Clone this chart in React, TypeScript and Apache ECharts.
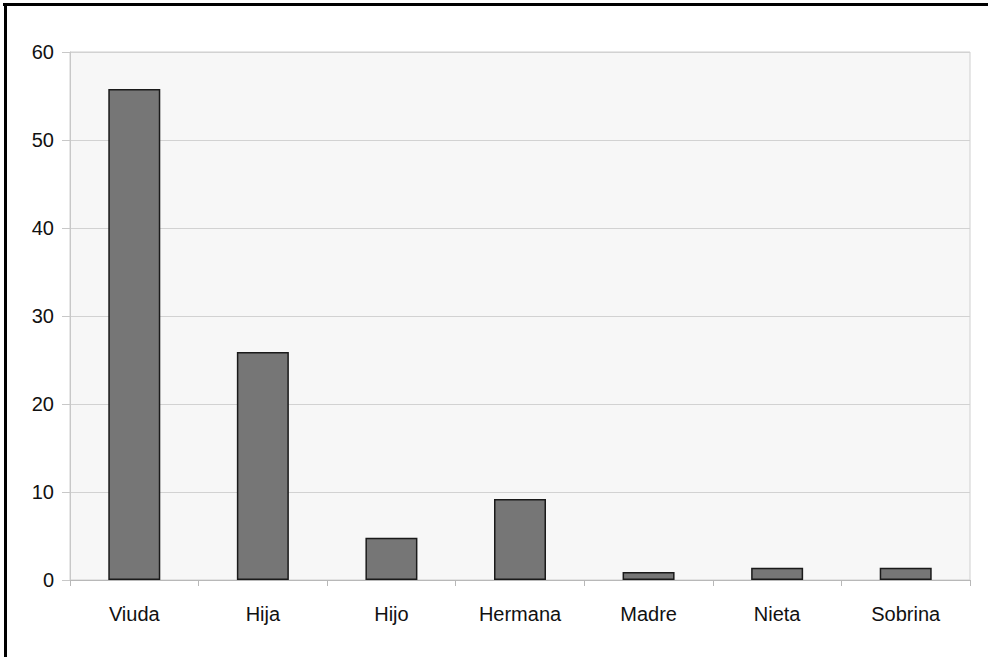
import React, { useEffect, useRef } from "react";
import * as echarts from "echarts";

const categories = ["Viuda", "Hija", "Hijo", "Hermana", "Madre", "Nieta", "Sobrina"];
const values = [55.8, 25.9, 4.8, 9.2, 0.9, 1.4, 1.4];
const yTicks = { min: 0, max: 60, interval: 10 };

export default function App() {
  const ref = useRef<HTMLDivElement>(null);
  useEffect(() => {
    document.body.style.margin = "0";
    const chart = echarts.init(ref.current!, null, { renderer: "svg" });
    const font = "'Liberation Sans', Arial, sans-serif";
    chart.setOption({
      animation: false,
      backgroundColor: "#ffffff",
      grid: {
        left: 70,
        right: 18,
        top: 52,
        bottom: 77,
        show: true,
        backgroundColor: "#f7f7f7",
        borderColor: "#cfcfcf",
        borderWidth: 1,
      },
      graphic: [
        { type: "rect", shape: { x: 3, y: 3, width: 985, height: 3 }, style: { fill: "#000" } },
        { type: "rect", shape: { x: 4, y: 3, width: 3, height: 654 }, style: { fill: "#000" } },
      ],
      xAxis: {
        type: "category",
        data: categories,
        axisLine: { lineStyle: { color: "#b8b8b8", width: 1 } },
        axisTick: { show: true, alignWithLabel: false, length: 6, lineStyle: { color: "#b8b8b8" } },
        axisLabel: { color: "#111", fontSize: 20, fontFamily: font, margin: 24 },
        splitLine: { show: false },
      },
      yAxis: {
        type: "value",
        min: yTicks.min,
        max: yTicks.max,
        interval: yTicks.interval,
        axisLine: { show: true, lineStyle: { color: "#c8c8c8", width: 1 } },
        axisTick: { show: true, length: 8, lineStyle: { color: "#c8c8c8" } },
        axisLabel: { color: "#111", fontSize: 20, fontFamily: font, margin: 16 },
        splitLine: { show: true, lineStyle: { color: "#d2d2d2", width: 1 } },
      },
      series: [
        {
          type: "bar",
          data: values,
          barWidth: 52,
          itemStyle: { color: "#767676", borderColor: "#1a1a1a", borderWidth: 1.5 },
        },
      ],
    });
    return () => chart.dispose();
  }, []);
  return <div ref={ref} style={{ position: "fixed", left: 0, top: 0, width: 988, height: 657 }} />;
}
